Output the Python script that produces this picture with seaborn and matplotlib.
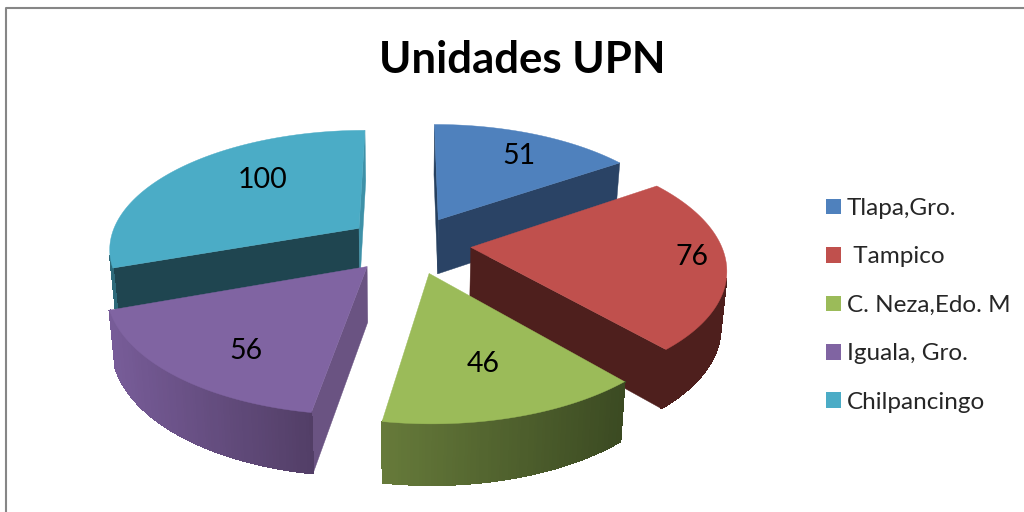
import numpy as np
import matplotlib
matplotlib.use("Agg")
import matplotlib.pyplot as plt
from matplotlib.patches import Patch
import seaborn as sns

# data
title = "Unidades UPN"
categories = ["Tlapa,Gro.", " Tampico", "C. Neza,Edo. M", "Iguala, Gro.", "Chilpancingo"]
values = [51, 76, 46, 56, 100]

# colours
top_colors = ["#4F81BD", "#C0504D", "#9BBB59", "#8064A2", "#4BACC6"]
start_wall = ["#26405F", "#4E1F1D", "#4E1F1D", "#6A5382", "#1F4550"]
end_wall = ["#2A4365", "#4E1F1D", "#4E1F1D", "#6A5382", "#3E91A8"]
arc_left = ["#2A4365", "#4E1F1D", "#667A3A", "#775C98", "#2E6A7A"]
arc_right = ["#2A4365", "#4E1F1D", "#3B4A22", "#523E66", "#2E6A7A"]

# projection settings (pixels of a 1024x512 canvas)
CX, CY = 403, 245
RX, RY = 250, 118
PERSP = 0.16
DEPTH = 55
BOTTOM_SCALE = 0.98
explode = [0.25, 0.22, 0.2, 0.2, 0.22]
nudge_x = [7, 13, 12, -3, 0]
nudge_y = [0, -1, 5, 3, -2]
label_r = [0.74, 0.87, 0.67, 0.74, 0.63]
label_shift = [3, -2, 0, -6, 11]
draw_order = [0, 4, 1, 3, 2]


def project(u, v, low=False):
    w = 1 / (1 + PERSP * v)
    x = RX * u * w
    y = -RY * v * w
    if low:
        return CX + x * BOTTOM_SCALE, CY + y + DEPTH * np.sqrt(w)
    return CX + x, CY + y


def signed_area(pts):
    xs, ys = np.array(pts).T
    return np.sum(xs * np.roll(ys, -1) - np.roll(xs, -1) * ys)


sns.set_theme(style="white")
plt.rcParams["font.family"] = ["Lato", "DejaVu Sans"]

fig = plt.figure(figsize=(10.24, 5.12), dpi=100)
ax = fig.add_axes([0, 0, 1, 1])
ax.set_xlim(0, 1024)
ax.set_ylim(512, 0)
ax.axis("off")

# frame of the chart area (only top and left are inside the crop)
ax.plot([5.5, 5.5, 1024], [512, 7.5, 7.5], color="#868686", lw=1.5, zorder=0)

ang = np.radians(np.cumsum([0] + values) / sum(values) * 360)

for i in draw_order:
    a0, a1 = ang[i], ang[i + 1]
    mid = (a0 + a1) / 2
    ou, ov = explode[i] * np.sin(mid), explode[i] * np.cos(mid)
    t = np.linspace(a0, a1, 90)
    us, vs = ou + np.sin(t), ov + np.cos(t)

    def place(a, b, low=False):
        x, y = project(a, b, low)
        return x + nudge_x[i], y + nudge_y[i]

    top = [place(ou, ov)] + [place(a, b) for a, b in zip(us, vs)]
    low = [place(ou, ov, True)] + [place(a, b, True) for a, b in zip(us, vs)]

    # radial walls, only the ones that face the viewer
    w_start = [top[0], top[1], low[1], low[0]]
    w_end = [top[0], top[-1], low[-1], low[0]]
    if signed_area(w_start) < 0:
        ax.fill(*zip(*w_start), color=start_wall[i], lw=0.3, zorder=2)
    if signed_area(w_end) > 0:
        ax.fill(*zip(*w_end), color=end_wall[i], lw=0.3, zorder=2)

    # curved wall with a left to right gradient
    shades = sns.blend_palette([arc_left[i], arc_right[i]], 60)
    xmin, xmax = min(p[0] for p in top[1:]), max(p[0] for p in top[1:])
    quads = []
    for j in range(1, len(top) - 1):
        quad = [top[j], top[j + 1], low[j + 1], low[j]]
        if signed_area(quad) < 0:
            f = (top[j][0] - xmin) / max(xmax - xmin, 1)
            quads.append((quad, shades[int(f * 59)]))
    for quad, shade in quads:
        # soft outline under the flat pieces, keeps the edge from looking jagged
        ax.fill(*zip(*quad), color=shade, lw=0, zorder=2)
    for quad, shade in quads:
        ax.fill(*zip(*quad), color=shade, lw=0.8, antialiased=False, zorder=2)

    ax.fill(*zip(*top), color=top_colors[i], lw=0.3, zorder=2)

    # value label
    la = mid + np.radians(label_shift[i])
    lx, ly = place(ou + label_r[i] * np.sin(la), ov + label_r[i] * np.cos(la))
    ax.text(lx, ly, str(values[i]), ha="center", va="center", fontsize=20.5,
            color="black", zorder=5)

ax.text(522, 60, title, ha="center", va="center", fontsize=31.5, fontweight="bold",
        color="black")

handles = [Patch(facecolor=c, edgecolor="none") for c in top_colors]
ax.legend(handles, categories, loc="upper left", bbox_to_anchor=(826, 198),
          bbox_transform=ax.transData, frameon=False, fontsize=17.5,
          handlelength=0.62, handleheight=0.62, handletextpad=0.23,
          labelspacing=1.13, borderpad=0, borderaxespad=0)

fig.savefig("out.png", dpi=100)
